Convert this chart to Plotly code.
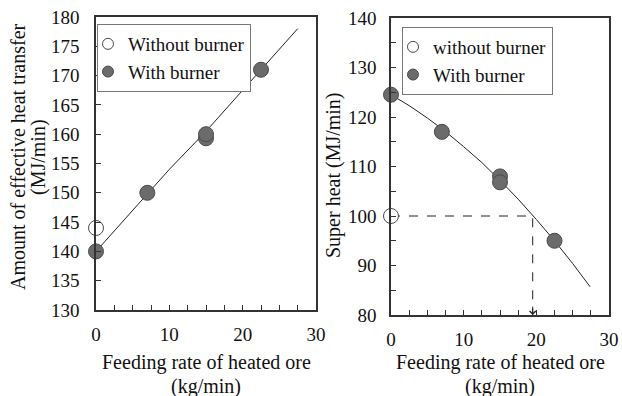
import plotly.graph_objects as go

# ---- data ----
# Left panel: amount of effective heat transfer (MJ/min)
left_without_x = [0]
left_without_y = [144]
left_with_x = [0, 7, 15, 15, 22.5]
left_with_y = [140, 150, 159.3, 160, 171]
left_fit_x = [0, 5, 10, 15, 20, 25, 27.5]
left_fit_y = [140, 147, 154, 160.5, 167.5, 174.5, 178]

# Right panel: super heat (MJ/min)
right_without_x = [0]
right_without_y = [100]
right_with_x = [0, 7, 15, 15, 22.5]
right_with_y = [124.5, 117, 108, 106.8, 95]
right_fit_x = [0, 2.5, 5, 7.5, 10, 12.5, 15, 17.5, 20, 22.5, 25, 27.4]
right_fit_y = [124.5, 122.3, 119.8, 117.05, 114.0, 110.8, 107.2, 103.4, 99.3, 95.0, 90.4, 85.7]

# guide (dashed) from without-burner super heat to the fit curve
guide_x = [0, 19.5, 19.5]
guide_y = [100, 100, 80]

x_title_lines = ["Feeding rate of heated ore", "(kg/min)"]
left_y_title_lines = ["Amount of effective heat transfer", "(MJ/min)"]
right_y_title = "Super heat (MJ/min)"

FONT = "Liberation Serif"
GRAY = "#6b6b6b"
EDGE = "#4a4a4a"
LINE = "#222222"
TXT = "#111111"

fig = go.Figure()

def add_panel(xa, ya, fx, fy, wx, wy, ox, oy, legend, label_without):
    fig.add_trace(go.Scatter(x=fx, y=fy, mode="lines", line=dict(color=LINE, width=1),
                             xaxis=xa, yaxis=ya, showlegend=False, hoverinfo="skip"))
    fig.add_trace(go.Scatter(x=wx, y=wy, mode="markers", xaxis=xa, yaxis=ya, cliponaxis=False,
                             marker=dict(size=15, color=GRAY, line=dict(color=EDGE, width=1)),
                             showlegend=False))
    fig.add_trace(go.Scatter(x=ox, y=oy, mode="markers", xaxis=xa, yaxis=ya, cliponaxis=False,
                             marker=dict(size=15, color="white", line=dict(color=EDGE, width=1)),
                             showlegend=False))
    # legend entries
    fig.add_trace(go.Scatter(x=[None], y=[None], mode="markers", xaxis=xa, yaxis=ya,
                             marker=dict(size=11, color="white", line=dict(color=EDGE, width=1)),
                             name=label_without, legend=legend))
    fig.add_trace(go.Scatter(x=[None], y=[None], mode="markers", xaxis=xa, yaxis=ya,
                             marker=dict(size=11, color=GRAY, line=dict(color=EDGE, width=1)),
                             name="With burner", legend=legend))

add_panel("x", "y", left_fit_x, left_fit_y, left_with_x, left_with_y,
          left_without_x, left_without_y, "legend", "Without burner")

fig.add_trace(go.Scatter(x=guide_x, y=guide_y, mode="lines", xaxis="x2", yaxis="y2",
                         line=dict(color=LINE, width=1, dash="dash"), showlegend=False,
                         hoverinfo="skip"))
add_panel("x2", "y2", right_fit_x, right_fit_y, right_with_x, right_with_y,
          right_without_x, right_without_y, "legend2", "without burner")

fig.add_annotation(x=guide_x[-1], y=80, ax=guide_x[-1], ay=82, xref="x2", yref="y2",
                   axref="x2", ayref="y2", showarrow=True, arrowhead=4, arrowsize=1.2,
                   arrowwidth=1, arrowcolor=LINE, text="")

W, H = 622, 396
def px_x(p):
    return p / W
def px_y(p):
    return 1 - p / H

TITLE_SIZE = 20

def title_text(text, x, y, angle=0):
    fig.add_annotation(text=text, x=px_x(x), y=px_y(y), xref="paper", yref="paper",
                       xanchor="center", yanchor="middle", showarrow=False, textangle=angle,
                       font=dict(family=FONT, size=TITLE_SIZE, color=TXT))

# x-axis titles (two lines each)
for cx in (206, 500):
    title_text(x_title_lines[0], cx, 362)
    title_text(x_title_lines[1], cx, 386)
# y-axis titles
title_text(left_y_title_lines[0], 18, 157, -90)
title_text(left_y_title_lines[1], 39, 157, -90)
title_text(right_y_title, 333, 175, -90)

axis_common = dict(showline=True, linecolor="#333333", linewidth=1.5, mirror=True,
                   showgrid=False, zeroline=False, ticks="inside", ticklen=5,
                   tickcolor="#333333", tickwidth=1, automargin=False,
                   ticklabeloverflow="allow",
                   tickfont=dict(family=FONT, size=19, color=TXT))

xaxis_common = dict(axis_common, range=[0, 30], dtick=10, tick0=0,
                    minor=dict(dtick=2.5, ticks="inside", ticklen=5, tickcolor="#333333"),
                    ticklabelstandoff=6)

fig.update_layout(
    width=W, height=H,
    margin=dict(l=0, r=0, t=0, b=0, autoexpand=False),
    paper_bgcolor="white", plot_bgcolor="white",
    font=dict(family=FONT, color=TXT),
    xaxis=dict(xaxis_common, domain=[px_x(96), px_x(316)], anchor="y"),
    yaxis=dict(axis_common, domain=[px_y(310), px_y(17)], anchor="x", range=[130, 180],
               dtick=5, ticklabelstandoff=11),
    xaxis2=dict(xaxis_common, domain=[px_x(391), px_x(609)], anchor="y2"),
    yaxis2=dict(axis_common, domain=[px_y(315), px_y(18)], anchor="x2", range=[80, 140],
                dtick=10, ticklabelstandoff=9,
                minor=dict(dtick=5, ticks="inside", ticklen=5, tickcolor="#333333")),
    legend=dict(x=px_x(97), y=px_y(24), xanchor="left", yanchor="top",
                bordercolor="#777777", borderwidth=1, bgcolor="white",
                font=dict(family=FONT, size=19, color=TXT),
                itemwidth=30, tracegroupgap=0, indentation=-10),
    legend2=dict(x=px_x(402), y=px_y(27), xanchor="left", yanchor="top",
                 bordercolor="#777777", borderwidth=1, bgcolor="white",
                 font=dict(family=FONT, size=19, color=TXT),
                 itemwidth=30, tracegroupgap=0, indentation=-10),
    showlegend=True,
)

fig.write_html("out.html")
